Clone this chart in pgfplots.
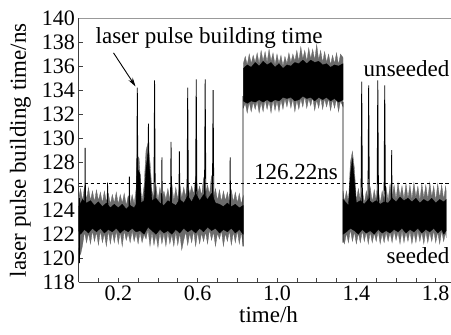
\documentclass[border=0pt]{standalone}
\usepackage{fontspec}
\setmainfont{Liberation Serif}
\usepackage{pgfplots}
\pgfplotsset{compat=1.18}
\usetikzlibrary{arrows.meta}
\definecolor{fringe}{gray}{0.42}
\begin{document}
\begin{tikzpicture}
\begin{axis}[
  scale only axis, width=372pt, height=264pt,
  xmin=0, xmax=1.877, ymin=118, ymax=140,
  axis x line*=bottom, axis y line*=left,
  axis line style={black!75, line width=0.8pt},
  ytick={118,120,...,140},
  xtick={0.2,0.6,1.0,1.4,1.8},
  minor xtick={0.1,0.3,0.4,0.5,0.7,0.8,0.9,1.1,1.2,1.3,1.5,1.6,1.7},
  tick align=inside, major tick length=4pt, minor tick length=4pt,
  tick style={black!75, line width=0.6pt},
  /pgf/number format/assume math mode=true,
  tick label style={font=\fontsize{22}{25}\selectfont},
  xticklabel style={inner sep=0pt, anchor=north, yshift=-3.5pt, /pgf/number format/.cd, fixed, fixed zerofill, precision=1},
  yticklabel style={inner sep=0pt, anchor=east, xshift=-3.5pt},
  xlabel={time/h}, ylabel={laser pulse building time/ns},
  xlabel style={font=\fontsize{23}{26}\selectfont, at={(axis description cs:0.51,0)}, anchor=base, yshift=-40pt},
  ylabel style={font=\fontsize{23}{26}\selectfont, at={(axis description cs:-0.156,0.5)}, anchor=center},
  no markers,
]
% ---------- outer (grey fringe) envelopes ----------
\addplot[fill=fringe, draw=fringe, line width=0.3pt] coordinates {
(0.00,125.0)(0.01,125.8)(0.02,124.8)(0.03,126.0)(0.04,124.9)(0.05,125.9)(0.06,124.8)(0.07,125.6)(0.08,124.7)(0.09,125.7)
(0.10,124.8)(0.11,125.5)(0.12,124.6)(0.13,125.6)(0.14,124.7)(0.15,125.4)(0.16,124.5)(0.17,125.3)(0.18,124.6)(0.19,125.5)
(0.20,124.5)(0.21,125.3)(0.22,124.6)(0.23,125.4)(0.24,124.4)(0.25,125.2)(0.26,124.5)(0.27,125.3)(0.28,124.5)(0.29,125.8)
(0.295,128.6)(0.305,128.3)(0.315,125.5)(0.32,124.8)(0.33,126.0)(0.34,129.0)(0.35,129.6)(0.36,128.0)(0.37,125.6)(0.38,125.0)
(0.39,126.1)(0.40,124.8)(0.41,125.9)(0.42,124.8)(0.43,125.6)(0.44,124.9)(0.45,125.8)(0.46,124.9)(0.47,126.2)(0.48,124.8)
(0.49,125.9)(0.50,124.9)(0.51,126.2)(0.52,125.0)(0.53,125.9)(0.54,125.1)(0.55,126.5)(0.56,125.3)(0.57,126.0)(0.58,125.3)
(0.59,126.8)(0.60,125.4)(0.61,126.0)(0.62,125.2)(0.63,126.7)(0.64,125.4)(0.65,126.1)(0.66,125.3)(0.67,126.9)(0.68,125.0)
(0.69,125.8)(0.70,124.8)(0.71,125.7)(0.72,124.7)(0.73,125.6)(0.74,124.8)(0.75,125.5)(0.76,124.6)(0.77,125.7)(0.78,124.7)
(0.79,125.5)(0.80,124.6)(0.81,125.4)(0.82,124.5)(0.83,125.2)
(0.83,121.0)(0.82,122.2)(0.81,121.2)(0.80,122.3)(0.79,121.3)(0.78,122.2)(0.77,121.1)(0.76,122.3)(0.75,121.4)(0.74,122.1)
(0.73,121.0)(0.72,122.3)(0.71,121.6)(0.70,122.1)(0.69,121.0)(0.68,122.2)(0.67,121.5)(0.66,122.4)(0.65,121.2)(0.64,122.2)
(0.63,121.4)(0.62,122.1)(0.61,121.2)(0.60,122.2)(0.59,121.0)(0.58,122.3)(0.57,121.3)(0.56,122.1)(0.55,121.1)(0.54,122.2)
(0.53,121.5)(0.52,120.7)(0.51,122.1)(0.50,121.1)(0.49,122.2)(0.48,121.0)(0.47,122.0)(0.46,121.2)(0.45,122.2)(0.44,121.0)
(0.43,122.1)(0.42,121.2)(0.41,122.2)(0.40,120.9)(0.39,122.0)(0.38,121.1)(0.37,122.2)(0.36,121.0)(0.35,122.4)(0.34,121.6)
(0.33,122.0)(0.32,121.3)(0.31,122.2)(0.30,121.2)(0.29,122.1)(0.28,121.4)(0.27,122.3)(0.26,121.3)(0.25,122.1)(0.24,121.5)
(0.23,122.3)(0.22,121.0)(0.21,122.2)(0.20,121.2)(0.19,122.3)(0.18,121.3)(0.17,122.2)(0.16,121.2)(0.15,122.3)(0.14,121.0)
(0.13,122.1)(0.12,121.3)(0.11,122.3)(0.10,121.1)(0.09,122.2)(0.08,121.4)(0.07,122.3)(0.06,121.2)(0.05,122.1)(0.04,121.3)
(0.03,122.2)(0.02,121.1)(0.01,120.3)(0.00,121.0)
} -- cycle;
\addplot[fill=fringe, draw=fringe, line width=0.3pt] coordinates {
(0.830,136.2)(0.84,136.8)(0.85,136.1)(0.86,137.0)(0.87,136.2)(0.88,136.9)(0.89,136.3)(0.90,137.1)(0.91,136.2)(0.92,137.3)
(0.93,136.4)(0.94,137.2)(0.95,136.3)(0.96,137.4)(0.97,136.4)(0.98,137.1)(0.99,136.1)(1.00,137.0)(1.01,136.2)(1.02,136.9)
(1.03,136.0)(1.04,136.8)(1.05,136.2)(1.06,137.1)(1.07,136.3)(1.08,137.0)(1.09,136.4)(1.10,137.3)(1.11,136.4)(1.12,137.6)
(1.13,136.6)(1.14,137.3)(1.15,136.4)(1.16,137.5)(1.17,136.6)(1.18,137.4)(1.19,136.5)(1.20,137.8)(1.21,136.5)(1.22,137.3)
(1.23,136.3)(1.24,137.2)(1.25,136.3)(1.26,137.0)(1.27,136.1)(1.28,136.9)(1.29,136.2)(1.30,137.1)(1.31,136.1)(1.32,137.0)
(1.333,136.7)
(1.333,132.6)(1.32,133.1)(1.31,132.2)(1.30,133.3)(1.29,132.5)(1.28,133.2)(1.27,132.3)(1.26,133.3)(1.25,132.6)(1.24,133.3)
(1.23,132.4)(1.22,133.4)(1.21,132.5)(1.20,133.2)(1.19,132.3)(1.18,133.4)(1.17,132.7)(1.16,133.3)(1.15,132.5)(1.14,133.5)
(1.13,132.6)(1.12,133.3)(1.11,132.4)(1.10,133.2)(1.09,132.2)(1.08,133.3)(1.07,132.5)(1.06,133.4)(1.05,132.6)(1.04,133.3)
(1.03,132.4)(1.02,133.2)(1.01,132.2)(1.00,133.1)(0.99,132.3)(0.98,133.2)(0.97,132.1)(0.96,133.1)(0.95,132.4)(0.94,133.2)
(0.93,132.2)(0.92,133.0)(0.91,132.1)(0.90,133.1)(0.89,132.4)(0.88,133.0)(0.87,132.2)(0.86,133.0)(0.85,132.1)(0.84,132.9)
(0.83,132.5)
} -- cycle;
\addplot[fill=fringe, draw=fringe, line width=0.3pt] coordinates {
(1.333,125.6)(1.34,124.7)(1.35,125.6)(1.36,124.6)(1.37,128.0)(1.38,128.9)(1.39,127.5)(1.40,124.8)(1.41,125.8)(1.42,124.8)
(1.43,125.7)(1.44,124.6)(1.45,125.6)(1.46,124.8)(1.47,125.9)(1.48,124.7)(1.49,125.7)(1.50,124.8)(1.51,125.8)(1.52,124.6)
(1.53,125.6)(1.54,124.8)(1.55,125.9)(1.56,124.8)(1.57,126.2)(1.58,125.0)(1.59,126.1)(1.60,124.9)(1.61,126.3)(1.62,125.1)
(1.63,126.0)(1.64,124.9)(1.65,126.2)(1.66,125.0)(1.67,126.1)(1.68,124.9)(1.69,126.3)(1.70,125.1)(1.71,126.0)(1.72,124.8)
(1.73,126.2)(1.74,125.0)(1.75,126.1)(1.76,124.9)(1.77,126.3)(1.78,125.1)(1.79,126.0)(1.80,124.8)(1.81,126.2)(1.82,125.0)
(1.83,126.1)(1.84,124.9)(1.85,126.0)(1.853,125.5)
(1.853,121.7)(1.85,122.2)(1.84,121.4)(1.83,122.3)(1.82,121.2)(1.81,122.2)(1.80,121.3)(1.79,122.3)(1.78,121.4)(1.77,122.2)
(1.76,121.3)(1.75,122.3)(1.74,121.2)(1.73,122.2)(1.72,121.4)(1.71,122.3)(1.70,121.3)(1.69,122.2)(1.68,121.2)(1.67,122.3)
(1.66,121.4)(1.65,122.2)(1.64,121.3)(1.63,122.3)(1.62,121.2)(1.61,122.2)(1.60,121.5)(1.59,122.3)(1.58,121.3)(1.57,122.2)
(1.56,121.4)(1.55,122.2)(1.54,121.3)(1.53,122.1)(1.52,121.2)(1.51,122.3)(1.50,121.4)(1.49,122.1)(1.48,121.3)(1.47,122.2)
(1.46,121.2)(1.45,122.2)(1.44,121.4)(1.43,122.3)(1.42,121.3)(1.41,122.1)(1.40,121.2)(1.39,122.2)(1.38,121.4)(1.37,122.4)
(1.36,121.3)(1.35,122.1)(1.34,121.2)(1.333,121.5)
} -- cycle;
% ---------- inner (black core) ----------
\addplot[fill=black, draw=black, line width=0.3pt] coordinates {
(0.00,124.3)(0.02,124.9)(0.04,124.6)(0.06,124.8)(0.08,124.4)(0.10,124.7)(0.12,124.3)(0.14,124.6)(0.16,124.2)(0.18,124.5)
(0.20,124.2)(0.22,124.5)(0.24,124.1)(0.26,124.4)(0.28,124.2)(0.29,124.5)(0.295,127.5)(0.31,127.0)(0.315,124.6)(0.33,124.8)
(0.34,127.5)(0.35,128.8)(0.36,127.0)(0.37,124.8)(0.39,125.0)(0.41,124.6)(0.43,124.4)(0.45,124.8)(0.47,124.6)(0.49,124.4)
(0.51,124.9)(0.53,124.6)(0.55,125.2)(0.57,124.7)(0.59,125.4)(0.61,124.8)(0.63,125.3)(0.65,124.9)(0.67,125.4)(0.69,124.6)
(0.71,124.5)(0.73,124.3)(0.75,124.6)(0.77,124.3)(0.79,124.5)(0.81,124.2)(0.83,124.4)
(0.83,122.0)(0.81,122.4)(0.79,122.1)(0.77,122.5)(0.75,122.2)(0.73,122.4)(0.71,122.1)(0.69,122.5)(0.67,122.3)(0.65,122.6)
(0.63,122.2)(0.61,122.5)(0.59,122.1)(0.57,122.4)(0.55,122.2)(0.53,122.5)(0.51,122.1)(0.49,122.4)(0.47,122.0)(0.45,122.3)
(0.43,122.1)(0.41,122.4)(0.39,122.0)(0.37,122.3)(0.35,122.6)(0.33,122.0)(0.31,122.3)(0.29,122.2)(0.27,122.5)(0.25,122.2)
(0.23,122.4)(0.21,122.1)(0.19,122.5)(0.17,122.2)(0.15,122.4)(0.13,122.1)(0.11,122.5)(0.09,122.2)(0.07,122.5)(0.05,122.1)
(0.03,122.4)(0.01,122.0)(0.00,122.3)
} -- cycle;
\addplot[fill=black, draw=black, line width=0.3pt] coordinates {
(0.83,135.8)(0.85,136.1)(0.87,135.9)(0.89,136.3)(0.91,136.0)(0.93,136.4)(0.95,136.1)(0.97,136.3)(0.99,135.9)(1.01,136.2)
(1.03,135.8)(1.05,136.1)(1.07,136.0)(1.09,136.3)(1.11,136.2)(1.13,136.5)(1.15,136.2)(1.17,136.5)(1.19,136.3)(1.21,136.4)
(1.23,136.1)(1.25,136.2)(1.27,135.9)(1.29,136.1)(1.31,136.0)(1.333,136.2)
(1.333,133.2)(1.31,133.0)(1.29,133.3)(1.27,133.1)(1.25,133.4)(1.23,133.2)(1.21,133.4)(1.19,133.1)(1.17,133.4)(1.15,133.3)
(1.13,133.5)(1.11,133.2)(1.09,133.1)(1.07,133.4)(1.05,133.3)(1.03,133.4)(1.01,133.1)(0.99,133.2)(0.97,133.0)(0.95,133.2)
(0.93,133.0)(0.91,133.2)(0.89,133.0)(0.87,133.1)(0.85,132.9)(0.83,133.1)
} -- cycle;
\addplot[fill=black, draw=black, line width=0.3pt] coordinates {
(1.333,124.9)(1.35,124.6)(1.36,124.4)(1.37,127.0)(1.38,128.3)(1.39,126.5)(1.40,124.6)(1.42,124.8)(1.44,124.5)(1.46,124.9)
(1.48,124.6)(1.50,124.8)(1.52,124.5)(1.54,124.7)(1.56,124.6)(1.58,125.0)(1.60,124.7)(1.62,125.1)(1.64,124.8)(1.66,125.0)
(1.68,124.7)(1.70,125.0)(1.72,124.6)(1.74,124.9)(1.76,124.7)(1.78,125.0)(1.80,124.6)(1.82,124.9)(1.84,124.7)(1.853,124.9)
(1.853,122.3)(1.84,122.0)(1.83,122.4)(1.81,122.1)(1.79,122.5)(1.77,122.2)(1.75,122.4)(1.73,122.1)(1.71,122.5)(1.69,122.2)
(1.67,122.4)(1.65,122.1)(1.63,122.5)(1.61,122.2)(1.59,122.4)(1.57,122.1)(1.55,122.3)(1.53,122.1)(1.51,122.4)(1.49,122.0)
(1.47,122.3)(1.45,122.1)(1.43,122.4)(1.41,122.0)(1.39,122.3)(1.37,122.5)(1.35,122.2)(1.333,122.0)
} -- cycle;
% ---------- spikes and transitions ----------
\addplot[black, line width=0.8pt, unbounded coords=jump] coordinates {
(0.005,119.6)(0.005,125.0)(nan,nan)
(0.031,123.5)(0.033,129.2)(0.035,123.5)(nan,nan)
(0.144,124.0)(0.146,126.3)(0.148,124.0)(nan,nan)
(0.254,124.0)(0.256,126.8)(0.258,124.0)(nan,nan)
(0.292,123.0)(0.296,134.2)(0.300,123.0)(nan,nan)
(0.348,124.0)(0.352,131.2)(0.356,124.0)(nan,nan)
(0.379,123.0)(0.383,134.8)(0.387,123.0)(nan,nan)
(0.418,124.0)(0.420,128.4)(0.422,124.0)(nan,nan)
(0.463,124.0)(0.466,129.7)(0.469,124.0)(nan,nan)
(0.505,124.0)(0.508,128.9)(0.511,124.0)(nan,nan)
(0.546,123.5)(0.550,134.2)(0.554,123.5)(nan,nan)
(0.589,123.5)(0.593,134.9)(0.597,123.5)(nan,nan)
(0.634,123.5)(0.638,134.9)(0.642,123.5)(nan,nan)
(0.674,123.5)(0.678,134.0)(0.682,123.5)(nan,nan)
(0.762,124.0)(0.764,128.4)(0.766,124.0)(nan,nan)
(0.829,121.0)(0.829,133.5)(nan,nan)
(1.333,133.0)(1.333,121.3)(nan,nan)
(1.423,123.5)(1.427,134.7)(1.431,123.5)(nan,nan)
(1.458,123.5)(1.462,134.4)(1.466,123.5)(nan,nan)
(1.504,123.5)(1.508,134.8)(1.512,123.5)(nan,nan)
(1.539,123.5)(1.543,134.4)(1.547,123.5)(nan,nan)
(1.576,124.0)(1.578,129.0)(1.580,124.0)
};
% ---------- reference level ----------
\addplot[black, line width=0.7pt, dash pattern=on 3.5pt off 2.5pt] coordinates {(0,126.22)(1.877,126.22)};
\draw[black!40, line width=0.6pt] (rel axis cs:0,1) -- (rel axis cs:1,1);
% ---------- annotations ----------
\node[anchor=base, font=\fontsize{23}{26}\selectfont] at (axis cs:0.658,137.9) {laser pulse building time};
\draw[-{Stealth[length=9pt,width=5pt]}, line width=0.9pt] (axis cs:0.176,137.1) -- (axis cs:0.287,134.3);
\node[anchor=base, font=\fontsize{23}{26}\selectfont] at (axis cs:1.653,135.1) {unseeded};
\node[anchor=base, font=\fontsize{23}{26}\selectfont] at (axis cs:1.711,119.6) {seeded};
\node[anchor=base, font=\fontsize{23}{26}\selectfont] at (axis cs:1.096,126.58) {126.22ns};
\end{axis}
\pgfresetboundingbox
\path[use as bounding box] ([xshift=-78.5pt,yshift=-52pt]current axis.south west) rectangle ([yshift=18pt]current axis.north east);
\end{tikzpicture}
\end{document}
